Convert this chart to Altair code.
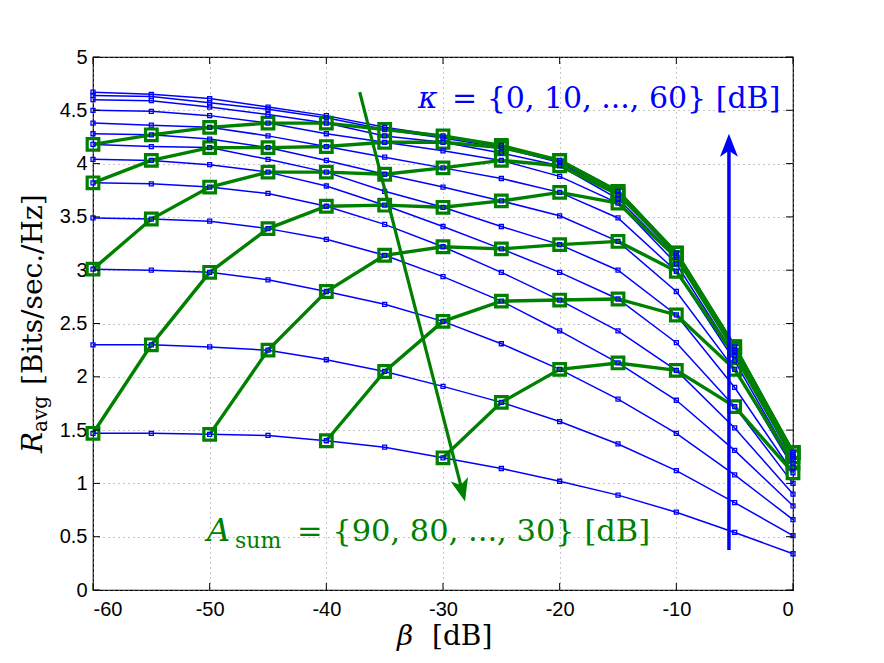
import altair as alt
import pandas as pd

# ---------------- data ----------------
beta_db = [-60, -55, -50, -45, -40, -35, -30, -25, -20, -15, -10, -5, 0]
kappa_db = [0, 5, 10, 15, 20, 25, 30, 35, 40, 45, 50, 55, 60]

r_k00 = [1.47, 1.47, 1.46, 1.45, 1.40, 1.34, 1.24, 1.14, 1.02, 0.89, 0.73, 0.54, 0.34]
r_k05 = [2.30, 2.30, 2.28, 2.25, 2.16, 2.05, 1.91, 1.76, 1.58, 1.37, 1.12, 0.82, 0.51]
r_k10 = [3.01, 3.00, 2.98, 2.91, 2.80, 2.68, 2.52, 2.31, 2.07, 1.79, 1.47, 1.08, 0.66]
r_k15 = [3.49, 3.48, 3.46, 3.39, 3.29, 3.14, 2.94, 2.71, 2.43, 2.13, 1.78, 1.31, 0.79]
r_k20 = [3.82, 3.81, 3.78, 3.72, 3.60, 3.43, 3.22, 2.98, 2.72, 2.43, 2.06, 1.52, 0.90]
r_k25 = [4.04, 4.03, 3.99, 3.92, 3.79, 3.61, 3.41, 3.20, 2.98, 2.73, 2.32, 1.72, 1.00]
r_k30 = [4.18, 4.16, 4.15, 4.04, 3.92, 3.74, 3.59, 3.41, 3.24, 3.00, 2.58, 1.90, 1.10]
r_k35 = [4.28, 4.27, 4.23, 4.15, 4.03, 3.90, 3.78, 3.65, 3.51, 3.27, 2.80, 2.07, 1.15]
r_k40 = [4.38, 4.36, 4.34, 4.26, 4.16, 4.06, 3.96, 3.86, 3.73, 3.49, 2.99, 2.15, 1.19]
r_k45 = [4.50, 4.49, 4.45, 4.38, 4.28, 4.20, 4.12, 4.03, 3.88, 3.63, 3.06, 2.20, 1.22]
r_k50 = [4.60, 4.59, 4.53, 4.46, 4.38, 4.26, 4.20, 4.10, 3.98, 3.67, 3.12, 2.23, 1.25]
r_k55 = [4.64, 4.63, 4.57, 4.51, 4.43, 4.32, 4.24, 4.15, 4.01, 3.71, 3.14, 2.25, 1.27]
r_k60 = [4.67, 4.65, 4.61, 4.53, 4.45, 4.34, 4.26, 4.17, 4.03, 3.74, 3.16, 2.28, 1.29]
blue_curves = [r_k00, r_k05, r_k10, r_k15, r_k20, r_k25, r_k30,
               r_k35, r_k40, r_k45, r_k50, r_k55, r_k60]

a_sum_db = [90, 80, 70, 60, 50, 40, 30]
beta_a90 = beta_db
r_a90 = [4.18, 4.27, 4.34, 4.38, 4.38, 4.32, 4.26, 4.17, 4.03, 3.74, 3.16, 2.28, 1.29]
beta_a80 = beta_db
r_a80 = [3.82, 4.03, 4.15, 4.15, 4.16, 4.20, 4.20, 4.15, 4.03, 3.74, 3.16, 2.28, 1.29]
beta_a70 = beta_db
r_a70 = [3.01, 3.48, 3.78, 3.92, 3.92, 3.90, 3.96, 4.03, 3.98, 3.71, 3.16, 2.28, 1.29]
beta_a60 = beta_db
r_a60 = [1.47, 2.30, 2.98, 3.39, 3.60, 3.61, 3.59, 3.65, 3.73, 3.63, 3.12, 2.25, 1.29]
beta_a50 = [-50, -45, -40, -35, -30, -25, -20, -15, -10, -5, 0]
r_a50 = [1.46, 2.25, 2.80, 3.14, 3.22, 3.20, 3.24, 3.27, 2.99, 2.20, 1.25]
beta_a40 = [-40, -35, -30, -25, -20, -15, -10, -5, 0]
r_a40 = [1.40, 2.05, 2.52, 2.71, 2.72, 2.73, 2.58, 2.07, 1.19]
beta_a30 = [-30, -25, -20, -15, -10, -5, 0]
r_a30 = [1.24, 1.76, 2.07, 2.13, 2.06, 1.72, 1.10]
green_beta = [beta_a90, beta_a80, beta_a70, beta_a60, beta_a50, beta_a40, beta_a30]
green_curves = [r_a90, r_a80, r_a70, r_a60, r_a50, r_a40, r_a30]

x_ticks = [-60, -50, -40, -30, -20, -10, 0]
y_ticks = [0, 0.5, 1, 1.5, 2, 2.5, 3, 3.5, 4, 4.5, 5]

# annotation anchors (data coordinates)
green_arrow_beta = [-37.14, -28.33]
green_arrow_r = [4.67, 0.92]
green_tip = (-28.11, 0.83)
blue_arrow_beta = [-5.49, -5.49]
blue_arrow_r = [0.375, 4.17]
blue_tip = (-5.49, 4.28)

# ---------------- tables ----------------
blue_df = pd.DataFrame([
    {"beta": b, "R": r, "kappa": k}
    for k, curve in zip(kappa_db, blue_curves)
    for b, r in zip(beta_db, curve)
])
green_df = pd.DataFrame([
    {"beta": b, "R": r, "asum": a}
    for a, bs, curve in zip(a_sum_db, green_beta, green_curves)
    for b, r in zip(bs, curve)
])

BLUE = "#0000ff"
GREEN = "#008000"
W, H = 700, 533
xs = alt.Scale(domain=[-60, 0], nice=False, zero=False)
ys = alt.Scale(domain=[0, 5], nice=False, zero=False)


def X(**kw):
    return alt.X("beta:Q", scale=xs, title="", **kw)


def Y(**kw):
    return alt.Y("R:Q", scale=ys, title="", **kw)


blue_lines = alt.Chart(blue_df).mark_line(color=BLUE, strokeWidth=1.5).encode(
    x=X(axis=alt.Axis(values=x_ticks, labelPadding=9)),
    y=Y(axis=alt.Axis(values=y_ticks, labelPadding=6)),
    detail="kappa:N",
)
blue_pts = alt.Chart(blue_df).mark_point(
    shape="square", size=16, filled=False, color=BLUE, strokeWidth=1.3, opacity=1
).encode(x=X(), y=Y())

green_lines = alt.Chart(green_df).mark_line(color=GREEN, strokeWidth=3.4).encode(
    x=X(), y=Y(), detail="asum:N")
green_pts = alt.Chart(green_df).mark_point(
    shape="square", size=135, filled=False, color=GREEN, strokeWidth=3.2, opacity=1
).encode(x=X(), y=Y())

head_path = "M0,0 L0.39,1 L0,0.74 L-0.39,1 Z"

g_shaft = alt.Chart(pd.DataFrame({"beta": green_arrow_beta, "R": green_arrow_r})).mark_line(
    color=GREEN, strokeWidth=3.2).encode(x=X(), y=Y())
g_head = alt.Chart(pd.DataFrame({"beta": [green_tip[0]], "R": [green_tip[1]]})).mark_point(
    shape=head_path, size=2116, filled=True, color=GREEN, opacity=1, strokeWidth=0,
    angle=165.6).encode(x=X(), y=Y())
b_shaft = alt.Chart(pd.DataFrame({"beta": blue_arrow_beta, "R": blue_arrow_r})).mark_line(
    color=BLUE, strokeWidth=3.5).encode(x=X(), y=Y())
b_head = alt.Chart(pd.DataFrame({"beta": [blue_tip[0]], "R": [blue_tip[1]]})).mark_point(
    shape=head_path, size=2116, filled=True, color=BLUE, opacity=1, strokeWidth=0,
    angle=0).encode(x=X(), y=Y())


def data_text(b, r, label, **mk):
    return alt.Chart(pd.DataFrame({"beta": [b], "R": [r], "label": [label]})).mark_text(
        font="DejaVu Serif", align="left", baseline="alphabetic", **mk
    ).encode(x=X(), y=Y(), text="label:N")


def px_text(px, py, label, **mk):
    return alt.Chart(pd.DataFrame({"label": [label]})).mark_text(
        font="DejaVu Serif", align="left", baseline="alphabetic", color="black", **mk
    ).encode(x=alt.value(px), y=alt.value(py), text="label:N")


kappa_sym = data_text(-32.14, 4.52, "κ", fontSize=30, fontStyle="italic", color=BLUE)
kappa_rest = data_text(-32.14, 4.52, "= {0, 10, ..., 60} [dB]", fontSize=30,
                       color=BLUE, dx=34)
asum_sym = data_text(-50.23, 0.46, "A", fontSize=32, fontStyle="italic", color=GREEN)
asum_sub = data_text(-50.23, 0.46, "sum", fontSize=22, color=GREEN, dx=28, dy=7)
asum_rest = data_text(-50.23, 0.46, "= {90, 80, ..., 30} [dB]", fontSize=30.5,
                      color=GREEN, dx=90)

ytitle_r = px_text(-51, 396, "R", fontSize=28, fontStyle="italic", angle=270)
ytitle_sub = px_text(-46, 375, "avg", fontSize=20, angle=270)
ytitle_rest = px_text(-51, 328, "[Bits/sec./Hz]", fontSize=28, angle=270)
xtitle_b = px_text(304, 588, "β", fontSize=28, fontStyle="italic")
xtitle_rest = px_text(339, 588, "[dB]", fontSize=28)

xt_df = pd.DataFrame({"beta": x_ticks})
yt_df = pd.DataFrame({"R": y_ticks})
tick_b = alt.Chart(xt_df).mark_rule(color="black", strokeWidth=1).encode(
    x=X(), y=alt.value(H), y2=alt.value(H - 7))
tick_t = alt.Chart(xt_df).mark_rule(color="black", strokeWidth=1).encode(
    x=X(), y=alt.value(0), y2=alt.value(7))
tick_l = alt.Chart(yt_df).mark_rule(color="black", strokeWidth=1).encode(
    y=Y(), x=alt.value(0), x2=alt.value(7))
tick_r = alt.Chart(yt_df).mark_rule(color="black", strokeWidth=1).encode(
    y=Y(), x=alt.value(W - 7), x2=alt.value(W))

chart = alt.layer(
    blue_lines, green_lines, green_pts, blue_pts,
    g_shaft, g_head, b_shaft, b_head,
    kappa_sym, kappa_rest, asum_sym, asum_sub, asum_rest,
    ytitle_r, ytitle_sub, ytitle_rest, xtitle_b, xtitle_rest,
    tick_b, tick_t, tick_l, tick_r,
).properties(
    width=W, height=H,
    padding={"left": 93, "top": 57, "right": 91, "bottom": 73},
    autosize=alt.AutoSizeParams(type="none"),
    background="white",
).configure_view(
    stroke="black", strokeWidth=1.2
).configure_axis(
    grid=True, ticks=False, tickSize=0, domain=False,
    labelFont="Liberation Sans", labelFontSize=20, labelColor="black",
    gridDash=[1, 4], gridColor="#8a8a8a", gridWidth=1, gridOpacity=1,
    labelExpr="'' + datum.value", title="",
)

chart.save("out.html", embed_options={"renderer": "svg", "actions": False})
